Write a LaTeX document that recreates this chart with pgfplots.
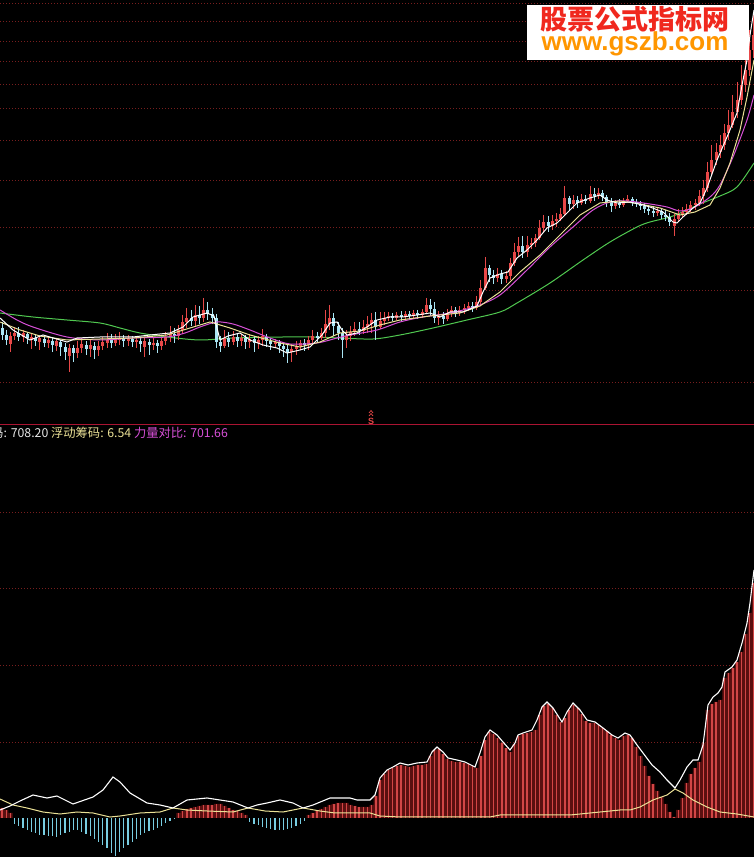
\documentclass[border=0pt]{standalone}
\usepackage{pgfplots}
\pgfplotsset{compat=1.18}
\usepackage{pgfplotstable}
\usepackage{fontspec}
\newfontfamily\cjk{Noto Sans CJK SC}
\newfontfamily\lsans{Liberation Sans}
\definecolor{upred}{RGB}{232,72,72}
\definecolor{dncyan}{RGB}{170,230,245}
\definecolor{gridred}{RGB}{120,30,30}
\definecolor{sepred}{RGB}{170,20,50}
\definecolor{barred}{RGB}{210,70,70}
\definecolor{bardark}{RGB}{90,16,16}
\definecolor{barcyan}{RGB}{120,205,225}
\definecolor{ma10}{RGB}{235,225,150}
\definecolor{ma20}{RGB}{215,80,215}
\definecolor{ma60}{RGB}{80,200,80}
\definecolor{wmred}{RGB}{240,40,30}
\definecolor{wmorange}{RGB}{255,150,0}

% candles: open close high low (screen rows of the top panel, 0 = top)
\pgfplotstableread{
o c h l
328 335 322 340
335 340 330 345
344 336 332 352
336 333 327 340
333 337 327 341
337 333 330 342
334 338 332 344
340 337 334 349
338 341 335 346
342 338 336 350
339 343 337 347
343 340 336 348
341 345 338 352
346 341 339 351
342 347 340 356
347 352 343 360
356 348 344 372
348 353 345 362
353 348 341 358
348 344 338 353
345 349 341 355
349 345 340 357
346 350 342 359
350 346 341 356
346 342 337 350
343 340 333 348
340 343 334 348
343 339 334 346
340 338 332 345
338 341 335 347
341 339 335 346
339 342 336 347
342 340 337 348
341 344 338 352
347 341 337 357
342 345 339 355
345 343 338 350
343 346 340 353
346 341 337 350
341 337 332 345
337 334 326 342
334 336 328 343
336 330 325 340
330 322 315 334
322 318 308 328
318 321 310 326
321 315 305 327
315 318 306 324
318 310 298 322
310 314 302 320
314 318 308 324
318 342 314 348
342 346 336 352
346 338 330 348
338 342 332 347
342 337 331 345
337 341 333 347
341 338 334 346
338 342 335 349
342 339 334 348
339 343 336 352
343 340 336 349
340 336 329 346
337 341 334 347
341 344 338 350
344 342 339 348
342 346 340 353
346 349 343 357
349 352 345 363
352 349 344 362
349 346 341 355
346 343 340 350
343 345 339 351
345 340 336 350
340 336 330 343
336 338 332 342
338 333 328 340
333 324 310 338
324 318 305 330
318 326 313 336
326 333 322 340
333 340 328 358
340 336 330 348
336 332 326 341
332 329 322 336
329 331 322 335
331 327 320 334
327 324 316 333
324 320 313 333
320 327 312 340
327 321 312 329
321 318 312 325
318 316 312 321
316 318 313 321
318 315 312 320
315 317 311 322
317 314 311 320
314 316 311 320
316 313 310 319
313 315 310 319
315 312 309 318
312 305 298 314
305 309 299 316
309 318 302 323
318 316 311 325
316 319 312 324
319 313 309 321
313 310 306 317
310 313 307 317
313 310 306 316
310 308 304 314
308 306 302 311
306 308 302 312
308 302 296 310
302 288 280 305
288 268 257 290
268 275 265 282
275 278 270 284
278 274 268 282
274 279 270 284
279 276 271 283
276 263 258 280
263 252 243 266
252 246 237 256
246 252 236 258
252 245 236 257
245 243 238 249
243 238 234 247
238 228 220 240
228 222 215 233
222 226 216 232
226 221 215 230
221 219 213 227
219 214 208 221
214 198 186 216
198 204 196 210
204 200 195 209
200 203 196 208
203 199 194 205
199 201 195 204
201 194 186 203
194 196 188 201
196 193 188 199
193 197 190 201
197 202 195 207
202 206 198 212
206 203 200 209
203 205 199 208
205 201 198 207
201 199 195 203
199 202 197 206
202 204 199 207
204 206 201 210
206 209 203 213
209 211 206 215
211 213 207 217
213 211 207 216
211 215 208 219
215 217 210 221
217 222 213 226
226 219 214 236
219 215 209 221
215 212 207 218
212 209 204 215
209 205 201 212
205 203 199 210
203 196 190 206
196 188 180 204
188 172 162 192
172 160 145 176
160 152 143 165
152 145 135 158
145 133 124 150
133 125 110 140
125 112 95 128
112 100 82 118
100 85 65 105
85 70 50 92
70 50 30 76
50 35 15 58
}\candles

% indicator bars (height above zero line)
\pgfplotstableread{
v
10
8
5
-6
-8
-10
-12
-14
-15
-17
-17
-18
-18
-19
-17
-15
-14
-12
-12
-14
-16
-18
-21
-24
-27
-30
-35
-38
-34
-30
-27
-24
-21
-17
-15
-13
-12
-10
-8
-5
-3
-1
5
7
9
10
11
12
13
13
13
14
14
12
10
8
7
5
3
-4
-6
-7
-9
-10
-11
-12
-12
-12
-11
-10
-8
-6
-3
3
5
7
9
11
13
14
15
15
15
13
12
11
11
11
13
22
38
44
48
50
52
53
52
51
52
53
53
54
62
68
69
64
59
57
56
56
55
54
52
50
62
78
86
84
80
75
70
66
74
82
84
85
86
88
103
112
114
110
103
96
100
108
113
110
104
97
95
95
93
90
87
83
80
78
82
83
80
71
62
52
42
34
27
21
14
6
1
8
20
35
44
50
56
75
108
114
116
118
140
145
150
156
166
184
205
235
}\bars

\begin{document}
\begin{tikzpicture}[x=1pt,y=1pt]
\clip (0,0) rectangle (754,857);
\fill[black] (0,0) rectangle (754,857);
\foreach \g in {3,21,41,61,84,108,140,180,227,290,382,512,588,665,742}{
  \draw[gridred, dash pattern=on 1pt off 2pt, line width=0.8pt] (0,{857-\g}) -- (754,{857-\g});
}
\draw[sepred, line width=1pt] (0,432) -- (754,432);

\begin{axis}[at={(0,432)}, anchor=south west, scale only axis,
  width=754pt, height=425pt, xmin=0, xmax=754, ymin=0, ymax=425,
  hide axis, clip=true,
  y filter/.code={\pgfmathparse{425-#1}}]
% MA60
\addplot[ma60, line width=1pt, mark=none, smooth] coordinates {
(0,313)(33,317)(67,320)(100,323)(120,328)(140,333)(167,337)(200,340)(233,338)(283,337)(313,337)(340,338)(373,339)(400,335)(433,328)(467,320)(500,312)(517,303)(550,283)(583,260)(610,242)(637,227)(650,222)(673,216)(700,204)(720,196)(737,187)(754,163)};
% wicks
\addplot[draw=none, mark=none, forget plot,
  error bars/.cd, y dir=minus, y explicit, error mark=none,
  error bar style={draw=upred, line width=1pt, solid}]
  table[x expr=\coordindex*4.2+2, y=h,
        y error minus expr={(\thisrow{o}>\thisrow{c})*(\thisrow{l}-\thisrow{h})}] {\candles};
\addplot[draw=none, mark=none, forget plot,
  error bars/.cd, y dir=minus, y explicit, error mark=none,
  error bar style={draw=dncyan, line width=1pt, solid}]
  table[x expr=\coordindex*4.2+2, y=h,
        y error minus expr={(\thisrow{o}<=\thisrow{c})*(\thisrow{l}-\thisrow{h})}] {\candles};
% bodies
\addplot[draw=none, mark=none, forget plot,
  error bars/.cd, y dir=minus, y explicit, error mark=none,
  error bar style={draw=upred, line width=3pt, solid}]
  table[x expr=\coordindex*4.2+2, y expr={min(\thisrow{o},\thisrow{c})},
        y error minus expr={(\thisrow{o}>\thisrow{c})*max(abs(\thisrow{o}-\thisrow{c}),1)}] {\candles};
\addplot[draw=none, mark=none, forget plot,
  error bars/.cd, y dir=minus, y explicit, error mark=none,
  error bar style={draw=dncyan, line width=3pt, solid}]
  table[x expr=\coordindex*4.2+2, y expr={min(\thisrow{o},\thisrow{c})},
        y error minus expr={(\thisrow{o}<=\thisrow{c})*max(abs(\thisrow{o}-\thisrow{c}),1)}] {\candles};
% MA20
\addplot[ma20, line width=1pt, mark=none, smooth] coordinates {
(0,310)(17,320)(33,327)(67,337)(100,340)(133,338)(167,337)(185,333)(200,327)(217,322)(233,324)(250,330)(270,338)(290,344)(317,343)(337,338)(350,335)(377,330)(400,322)(423,317)(450,313)(477,306)(500,295)(527,270)(550,247)(573,227)(593,210)(610,202)(627,201)(650,204)(667,207)(680,211)(693,208)(710,197)(720,185)(733,157)(747,120)(754,95)};
% MA10
\addplot[ma10, line width=1pt, mark=none] coordinates {
(0,322)(20,330)(40,336)(67,340)(100,339)(133,338)(167,335)(190,328)(210,322)(230,328)(250,335)(280,343)(300,347)(320,342)(340,333)(360,331)(380,325)(400,320)(430,316)(460,313)(480,306)(500,292)(520,272)(540,255)(560,235)(580,215)(600,203)(620,201)(640,204)(660,208)(680,215)(695,212)(710,205)(720,188)(730,163)(740,130)(747,97)(754,60)};
% MA5
\addplot[white, line width=1pt, mark=none] coordinates {
(0,318)(13,330)(30,340)(43,335)(67,342)(77,338)(100,337)(117,337)(133,337)(150,335)(170,333)(183,327)(193,317)(207,313)(214,316)(220,340)(228,336)(240,333)(250,340)(263,345)(277,348)(287,353)(300,350)(310,347)(322,335)(330,323)(337,322)(342,330)(347,335)(357,333)(367,327)(377,320)(390,317)(403,317)(417,315)(430,313)(440,317)(450,312)(463,312)(477,306)(483,292)(490,278)(500,274)(508,272)(517,258)(527,250)(537,240)(547,228)(557,223)(567,213)(577,203)(590,198)(600,195)(607,200)(617,203)(630,202)(643,205)(650,207)(663,212)(673,222)(677,223)(683,217)(693,208)(700,203)(707,188)(717,160)(727,137)(737,113)(743,80)(747,60)(750,35)(754,10)};
\end{axis}

\begin{axis}[at={(0,0)}, anchor=south west, scale only axis,
  width=754pt, height=432pt, xmin=0, xmax=754, ymin=-39, ymax=393,
  hide axis, clip=true]
\addplot[ybar, bar width=4.2pt, bar shift=0pt, draw=none, fill=bardark,
  restrict y to domain=0.5:1000] table[x expr=\coordindex*4.2+2, y=v] {\bars};
\addplot[ycomb, barred, line width=1.4pt, mark=none,
  restrict y to domain=0.5:1000] table[x expr=\coordindex*4.2+2, y=v] {\bars};
\addplot[ycomb, barcyan, line width=1.3pt, mark=none,
  restrict y to domain=-1000:-0.5] table[x expr=\coordindex*4.2+2, y=v] {\bars};
% pale line
\addplot[ma10, line width=1pt, mark=none] coordinates {
(0,19)(13,13)(27,10)(43,6)(60,4)(77,6)(93,5)(110,1)(120,2)(140,5)(160,6)(173,10)(187,8)(207,7)(233,6)(248,10)(265,7)(283,6)(303,10)(320,7)(335,5)(350,5)(370,5)(380,2)(400,1)(450,1)(490,1)(500,3)(550,3)(570,3)(590,5)(610,7)(620,8)(630,8)(640,11)(653,18)(667,23)(675,29)(683,25)(693,18)(707,11)(720,6)(737,4)(754,1)};
% white line
\addplot[white, line width=1.1pt, mark=none] coordinates {
(0,8)(10,12)(20,17)(33,23)(47,20)(57,22)(73,14)(93,21)(103,28)(113,41)(120,36)(130,25)(147,15)(160,13)(173,10)(187,18)(207,20)(233,16)(248,10)(257,13)(267,15)(280,18)(293,15)(303,10)(313,13)(330,20)(350,20)(357,18)(370,18)(375,23)(380,40)(387,48)(393,51)(400,55)(408,53)(417,55)(427,56)(432,66)(437,71)(443,66)(448,60)(457,58)(465,56)(475,51)(480,65)(485,81)(490,88)(497,83)(503,76)(510,68)(515,75)(518,83)(523,85)(532,88)(537,98)(542,111)(547,116)(553,110)(562,96)(567,106)(573,115)(580,108)(587,98)(595,96)(603,90)(612,83)(618,80)(625,85)(630,83)(637,73)(643,65)(652,53)(660,46)(667,38)(675,30)(680,38)(687,51)(693,58)(698,58)(703,73)(708,113)(713,121)(718,125)(722,131)(725,146)(732,151)(737,158)(742,175)(747,195)(750,215)(754,248)};
\end{axis}

% indicator title row
\node[anchor=base east, inner sep=0, font=\cjk\fontsize{12.3}{13}\selectfont, white!90!black] at (3.5,419) {码};
\node[anchor=base west, inner sep=0, font=\cjk\fontsize{12.3}{13}\selectfont] at (3.5,419)
  {\color{white!90!black}: 708.20 \color{ma10}浮动筹码: 6.54 \color{ma20}力量对比: 701.66};
% signal mark: two small carets above an S
\draw[upred, line width=0.7pt] (369,444) -- (371,446.5) -- (373,444);
\draw[upred, line width=0.7pt] (369,441) -- (371,443.5) -- (373,441);
\node[upred, inner sep=0, font=\lsans\bfseries\fontsize{9}{9}\selectfont] at (371,435.5) {S};
% watermark
\fill[white] (527,797) rectangle (749,852);
\node[wmred, inner sep=0, font=\cjk\bfseries\fontsize{27}{27}\selectfont] at (635,838) {股票公式指标网};
\node[wmorange, inner sep=0, font=\lsans\bfseries\fontsize{26}{26}\selectfont] at (635,813) {www.gszb.com};
\end{tikzpicture}
\end{document}
